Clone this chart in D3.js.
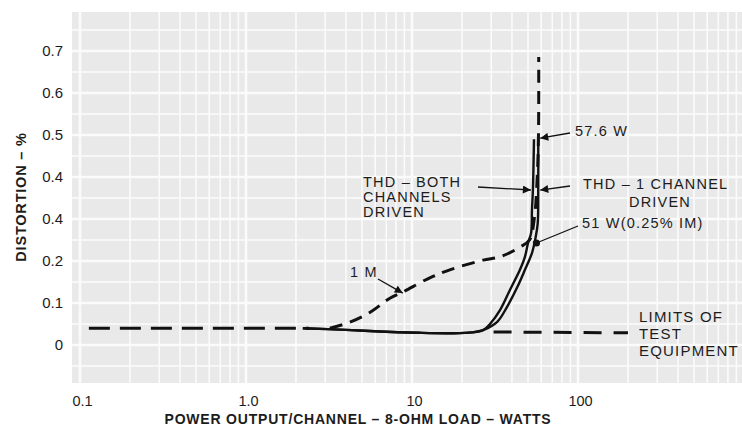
<!DOCTYPE html>
<html>
<head>
<meta charset="utf-8">
<script src="https://cdn.jsdelivr.net/npm/d3@7"></script>
<style>
  html, body { margin: 0; padding: 0; background: #fff; }
  svg { display: block; }
  text { font-family: "Liberation Sans", Arial, sans-serif; fill: #1c1c1c; }
</style>
</head>
<body>
<svg id="chart" width="742" height="436"></svg>
<script>
// Axis ticks
const xTickValues = [0.1, 1, 10, 100];
const xTickLabels = ["0.1", "1.0", "10", "100"];
const yTickValues = [0, 0.1, 0.2, 0.3, 0.4, 0.5, 0.6, 0.7];
const yTickLabels = ["0", "0.1", "0.2", "0.4", "0.4", "0.5", "0.6", "0.7"];

// Series: [power output per channel (W), distortion (%)]
const limitLeft  = [[0.11, 0.040], [2.4, 0.040]];
const limitRight = [[31, 0.031], [200, 0.029]];

const thdBoth = [
  [2.2, 0.040], [4, 0.036], [6.4, 0.032], [11, 0.029], [17, 0.028], [23, 0.030],
  [27, 0.036], [29.5, 0.050], [33.9, 0.083], [38.9, 0.131], [44.7, 0.179],
  [47.9, 0.210], [50, 0.243], [52.2, 0.267], [52.8, 0.321], [53.5, 0.369], [54.3, 0.490]
];

const thdOne = [
  [2.2, 0.040], [4, 0.036], [6.4, 0.032], [11, 0.029], [17, 0.028], [23, 0.030],
  [27, 0.036], [32.6, 0.055], [37.4, 0.091], [43.1, 0.138], [47.9, 0.179],
  [52.8, 0.219], [55.6, 0.257], [57.2, 0.290], [57.6, 0.369], [57.6, 0.490]
];

const imCurve = [
  [3.2, 0.040], [4.2, 0.054], [5.6, 0.078], [7.4, 0.112], [8.8, 0.126],
  [12.8, 0.160], [16.9, 0.179], [26.8, 0.202], [33.9, 0.210], [44.7, 0.233],
  [51, 0.250], [54.5, 0.300], [56.8, 0.400], [57.8, 0.500], [58, 0.686]
];

const svg = d3.select("#chart");
const plot = { left: 72, right: 742, top: 12, bottom: 383 };

const x = d3.scaleLog().domain([0.1, 1000]).range([80, 744]);
const y = d3.scaleLinear().domain([0, 0.7]).range([345, 51]);

// Graph-paper background
const g = svg.append("g");
g.append("rect")
  .attr("x", plot.left).attr("y", plot.top)
  .attr("width", plot.right - plot.left).attr("height", plot.bottom - plot.top)
  .attr("fill", "#e9e9e9");

const vGrid = [];
[0.1, 1, 10, 100].forEach(d => { for (let k = 1; k <= 9; k++) vGrid.push({ v: d * k, major: k === 1 }); });
g.selectAll("line.vg").data(vGrid.filter(d => x(d.v) > plot.left && x(d.v) < plot.right))
  .join("line").attr("class", "vg")
  .attr("x1", d => x(d.v)).attr("x2", d => x(d.v))
  .attr("y1", plot.top).attr("y2", plot.bottom)
  .attr("stroke", "#fbfbfb").attr("stroke-width", d => d.major ? 2.6 : 1.6);

const hGrid = d3.range(-0.1, 0.81, 0.05).map(v => ({ v: +v.toFixed(2), major: Math.abs(Math.round(v * 10) - v * 10) < 1e-6 }));
g.selectAll("line.hg").data(hGrid.filter(d => y(d.v) > plot.top && y(d.v) < plot.bottom))
  .join("line").attr("class", "hg")
  .attr("x1", plot.left).attr("x2", plot.right)
  .attr("y1", d => y(d.v)).attr("y2", d => y(d.v))
  .attr("stroke", "#fbfbfb").attr("stroke-width", d => d.major ? 2.6 : 1.3);

// Axes (labels only)
const xAxis = d3.axisBottom(x).tickValues(xTickValues)
  .tickFormat((d, i) => xTickLabels[i]).tickSize(0).tickPadding(0);
svg.append("g").attr("transform", `translate(2,${plot.bottom + 13})`).call(xAxis)
  .call(a => a.select(".domain").remove())
  .selectAll("text").attr("font-size", 14.5).attr("fill", "#222")
  .attr("font-family", "Liberation Sans, Arial, sans-serif");

const yAxis = d3.axisLeft(y).tickValues(yTickValues)
  .tickFormat((d, i) => yTickLabels[i]).tickSize(0).tickPadding(0);
svg.append("g").attr("transform", `translate(63,0)`).call(yAxis)
  .call(a => a.select(".domain").remove())
  .selectAll("text").attr("font-size", 15).attr("fill", "#222")
  .attr("font-family", "Liberation Sans, Arial, sans-serif");

// Axis titles
svg.append("text")
  .attr("x", 358).attr("y", 424).attr("text-anchor", "middle")
  .attr("font-size", 14).attr("font-weight", "bold").attr("letter-spacing", 0.8)
  .text("POWER OUTPUT/CHANNEL – 8-OHM LOAD – WATTS");
svg.append("text")
  .attr("transform", "translate(26,197) rotate(-90)").attr("text-anchor", "middle")
  .attr("font-size", 14.5).attr("font-weight", "bold").attr("letter-spacing", 0.8)
  .text("DISTORTION – %");

// Curves
const line = d3.line().x(d => x(d[0])).y(d => y(d[1])).curve(d3.curveCatmullRom.alpha(0.5));
const straight = d3.line().x(d => x(d[0])).y(d => y(d[1]));

const curves = svg.append("g").attr("fill", "none").attr("stroke", "#111");
curves.append("path").datum(limitLeft).attr("d", straight)
  .attr("stroke-width", 3).attr("stroke-dasharray", "21 10").attr("stroke-dashoffset", -2);
curves.append("path").datum(limitRight).attr("d", straight)
  .attr("stroke-width", 3).attr("stroke-dasharray", "18 12");
curves.append("path").datum(imCurve).attr("d", line)
  .attr("stroke-width", 3).attr("stroke-dasharray", "13 8");
curves.append("path").datum(thdBoth).attr("d", line).attr("stroke-width", 2.4);
curves.append("path").datum(thdOne).attr("d", line).attr("stroke-width", 2.4);

// Annotations
const defs = svg.append("defs");
defs.append("marker").attr("id", "arrow").attr("viewBox", "0 0 10 10")
  .attr("refX", 10).attr("refY", 5).attr("markerWidth", 12).attr("markerHeight", 8)
  .attr("markerUnits", "userSpaceOnUse").attr("orient", "auto")
  .append("path").attr("d", "M0,0 L10,5 L0,10 Z").attr("fill", "#111");

const ann = svg.append("g");
const annText = (tx, ty, lines, anchor = "start", size = 14.5, dy = 15) => {
  const t = ann.append("text").attr("x", tx).attr("y", ty).attr("text-anchor", anchor)
    .attr("font-size", size).attr("letter-spacing", 1.2);
  lines.forEach((s, i) => t.append("tspan").attr("x", tx).attr("dy", i ? dy : 0).text(s));
};
const arrow = (x1, y1, x2, y2, dot = false) => {
  ann.append("line").attr("x1", x1).attr("y1", y1).attr("x2", x2).attr("y2", y2)
    .attr("stroke", "#111").attr("stroke-width", 1.3)
    .attr("marker-end", dot ? null : "url(#arrow)");
  if (dot) ann.append("circle").attr("cx", x2).attr("cy", y2).attr("r", 3.6).attr("fill", "#111");
};

annText(363, 187, ["THD – BOTH", "CHANNELS", "DRIVEN"]);
arrow(478, 187, x(53.5) - 2, y(0.369));

annText(575, 136, ["57.6 W"]);
arrow(570, 133, x(57.6) + 2, y(0.49) - 1);

annText(583, 189, ["THD – 1 CHANNEL"]);
annText(660, 207, ["DRIVEN"], "middle");
arrow(570, 186, x(57.6) + 2, y(0.369));

annText(582, 228, ["51 W(0.25% IM)"]);
arrow(578, 226, x(51) + 7, y(0.25) + 3, true);

annText(350, 277, ["1 M"]);
arrow(378, 279, x(8.8), y(0.126) + 1);

annText(639, 322, ["LIMITS OF", "TEST", "EQUIPMENT"], "start", 15, 17);
</script>
</body>
</html>
